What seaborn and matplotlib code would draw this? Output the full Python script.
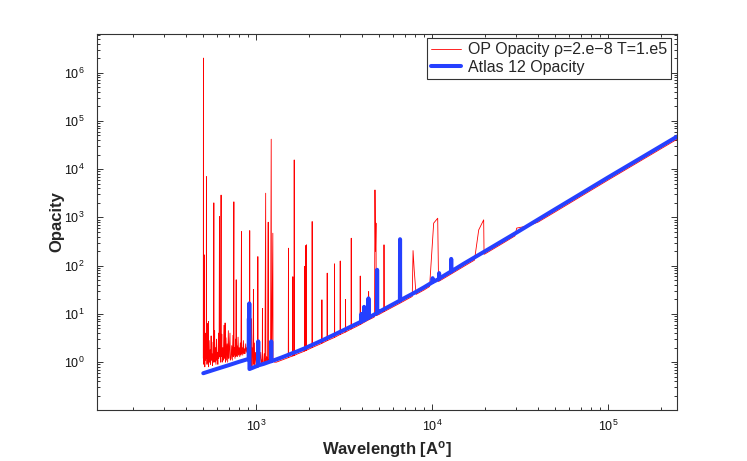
import matplotlib
matplotlib.use("Agg")
import matplotlib.pyplot as plt
import seaborn as sns
import pandas as pd
from matplotlib.ticker import LogLocator, NullFormatter

# OP opacity (rho=2e-8, T=1e5): (wavelength [A], opacity)
op_forest = [
    (500, 1.2), (501, 2.0e6), (502, 1.5), (504, 0.9), (506, 3.0), (507, 167), (508, 2.0),
    (510, 0.8), (513, 4.0), (515, 1.1), (518, 2.5), (520, 1.2), (521, 7000), (522, 1.6),
    (525, 0.9), (528, 2.2), (530, 1.0), (531, 6.4), (532, 1.3), (535, 7.0), (536, 0.8),
    (540, 2.8), (543, 1.0), (547, 1.8), (550, 0.9), (554, 3.5), (556, 1.1), (560, 1.5),
    (564, 0.85), (568, 2.6), (571, 1.0), (574, 2000), (576, 1.2), (580, 4.5), (582, 1.0),
    (586, 2.0), (590, 0.9), (594, 3.0), (597, 1.1), (601, 1.6), (605, 0.9), (610, 4.0),
    (612, 1.2), (615, 2.2), (618, 1040), (620, 1.3), (623, 1.8), (627, 1.0), (631, 2900),
    (633, 1.3), (637, 3.8), (640, 1.0), (645, 2.0), (650, 1.1), (655, 5.8), (658, 1.2),
    (663, 1.7), (665, 6.5), (668, 1.0), (673, 3.2), (678, 1.1), (683, 2.4), (688, 1.0),
    (694, 4.5), (698, 1.2), (703, 1.9), (709, 4.0), (712, 1.1), (719, 1.2), (725, 2.2),
    (731, 1.1), (737, 3.6), (741, 1.3), (746, 2100), (748, 1.4), (752, 2.0), (757, 1.2),
    (763, 3.0), (766, 1.3), (769, 51), (771, 1.4), (776, 2.2), (782, 1.3), (788, 3.3),
    (794, 1.4), (800, 2.0), (806, 1.3), (812, 2.5), (818, 1.4), (824, 508), (826, 1.5),
    (832, 2.0), (838, 1.4), (845, 2.8), (852, 1.5), (858, 1.9), (864, 1.5), (871, 2.4),
    (878, 1.6), (885, 2.0), (892, 1.7), (898, 2.2), (905, 1.8), (911, 2.0),
]
op_uv = [
    (912, 1.9), (913, 0.75), (916, 2.5), (918, 532), (920, 1.0), (925, 3.0), (928, 0.9),
    (935, 8.0), (938, 0.85), (945, 2.0), (950, 0.85), (960, 4.0), (964, 32), (968, 0.9),
    (975, 2.5), (980, 0.85), (990, 1.6), (1000, 0.85), (1010, 1.4), (1018, 0.9),
    (1021, 154), (1024, 0.9), (1035, 1.3), (1045, 0.9), (1060, 1.6), (1070, 0.92),
    (1082, 1.2), (1084, 13), (1086, 1.0), (1100, 0.95), (1110, 1.5), (1120, 0.98),
    (1131, 3170), (1134, 1.0), (1145, 1.3), (1160, 1.0), (1169, 795), (1172, 1.05),
    (1190, 1.2), (1205, 1.05), (1216, 41700), (1220, 1.5), (1224, 1.1), (1242, 470),
    (1245, 1.05), (1270, 1.0), (1300, 1.0), (1400, 1.11), (1500, 1.22), (1520, 1.24),
    (1524, 230), (1528, 1.25), (1560, 1.29), (1610, 1.34), (1614, 59), (1618, 1.35),
    (1640, 1.37), (1643, 15500), (1647, 1.38), (1700, 1.46), (1800, 1.59), (1878, 1.69),
    (1881, 96), (1884, 1.7), (1905, 1.73), (1908, 260), (1911, 1.74), (1925, 1.76),
    (1928, 270), (1931, 1.77), (2000, 1.88),
]
op_optical = [
    (2075, 2.0), (2078, 820), (2081, 2.01), (2200, 2.2), (2355, 2.45), (2361, 19.6),
    (2367, 2.47), (2525, 2.78), (2530, 70), (2535, 2.8), (2780, 3.25), (2785, 109),
    (2790, 3.27), (2995, 3.75), (3000, 125), (3005, 3.76), (3210, 4.2), (3216, 20),
    (3222, 4.22), (3460, 4.85), (3465, 370), (3470, 4.87), (3700, 5.45), (3890, 6.0),
    (3898, 61), (3906, 6.02), (4000, 6.35), (4340, 7.5), (4350, 29), (4360, 7.55),
    (4600, 8.3), (4700, 8.7), (4727, 3700), (4760, 200), (4790, 760), (4810, 9.2),
    (5000, 9.8), (5315, 11.1), (5320, 270), (5330, 11.15), (6000, 14), (6563, 16.7),
    (7000, 19), (7700, 23), (7780, 205), (7900, 80), (8090, 25.4),
]
op_ir = [
    (8500, 28), (9000, 31.4), (9660, 36.9), (10190, 760), (10740, 960), (10860, 47),
    (11500, 53), (12800, 67), (14000, 82), (16000, 109), (17380, 130), (18370, 550),
    (19600, 890), (19700, 172), (20000, 176), (22000, 216), (25000, 286), (29500, 412),
    (30200, 600), (34500, 660), (36000, 690), (40000, 800), (50000, 1300),
    (70000, 2720), (100000, 5950), (150000, 14300), (246000, 41500),
]

# Atlas 12 opacity
atlas_points = [
    (500, 0.59), (600, 0.73), (700, 0.87), (800, 1.02), (905, 1.17), (908, 8.0),
    (910, 3.0), (913, 16.5), (915, 0.72), (1000, 0.82), (1022, 0.85), (1026, 2.7),
    (1030, 0.86), (1100, 0.92), (1200, 1.03), (1212, 1.04), (1216, 2.7), (1220, 1.05),
    (1300, 1.14), (1400, 1.26), (1500, 1.39), (1600, 1.53), (1700, 1.66), (1800, 1.81),
    (1900, 1.96), (2000, 2.14), (2200, 2.5), (2500, 3.1), (3000, 4.26), (3500, 5.6),
    (3940, 6.9), (3955, 10), (3970, 7.0), (4090, 7.4), (4100, 14), (4110, 7.5),
    (4335, 8.3), (4342, 21), (4350, 8.4), (4855, 10.4), (4862, 82), (4870, 10.5),
    (5000, 11.1), (6000, 15.9), (6550, 18.9), (6563, 353), (6575, 19.1), (7000, 21.6),
    (8000, 28), (9000, 35.7), (10000, 45), (10050, 55), (10100, 46), (10920, 53),
    (10940, 70), (10960, 54), (12800, 76), (12818, 138), (12840, 76), (15000, 108),
    (20000, 200), (30000, 480), (50000, 1480), (70000, 3090), (100000, 6760),
    (150000, 16200), (246000, 47200),
]

major_x = [1e3, 1e4, 1e5]
major_y = [1e0, 1e1, 1e2, 1e3, 1e4, 1e5, 1e6]

op = pd.DataFrame(op_forest + op_uv + op_optical + op_ir, columns=["wave", "kappa"])
atlas = pd.DataFrame(atlas_points, columns=["wave", "kappa"])

sns.set_theme(style="ticks")
plt.rcParams["font.family"] = ["Liberation Sans", "DejaVu Sans"]
plt.rcParams["mathtext.fontset"] = "custom"
plt.rcParams["mathtext.rm"] = "Liberation Sans"
plt.rcParams["mathtext.it"] = "Liberation Sans:italic"
plt.rcParams["mathtext.bf"] = "Liberation Sans:bold"

fig, ax = plt.subplots(figsize=(7.47, 4.61), dpi=100)
fig.subplots_adjust(left=0.1299, right=0.9063, bottom=0.1106, top=0.9262)

sns.lineplot(data=op, x="wave", y="kappa", color="#ff0000", linewidth=0.6,
             estimator=None, sort=False, label="OP Opacity ρ=2.e−8 T=1.e5", ax=ax)
sns.lineplot(data=atlas, x="wave", y="kappa", color="#2540ff", linewidth=2.9,
             estimator=None, sort=False, label="Atlas 12 Opacity", ax=ax)

ax.set_xscale("log")
ax.set_yscale("log")
ax.set_xlim(124.5, 2.46e5)
ax.set_ylim(0.102, 6.3e6)
ax.set_xticks(major_x)
ax.set_yticks(major_y)
for axis in (ax.xaxis, ax.yaxis):
    axis.set_minor_locator(LogLocator(base=10, subs=(2, 3, 4, 5, 6, 7, 8, 9), numticks=50))
    axis.set_minor_formatter(NullFormatter())

ax.tick_params(which="both", direction="in", top=True, right=True,
               color="#333333", width=0.7, labelsize=9, labelcolor="#111111")
ax.tick_params(which="major", length=4.5)
ax.tick_params(which="minor", length=2.5)
ax.tick_params(axis="y", pad=9)
ax.tick_params(axis="x", pad=6)
for sp in ax.spines.values():
    sp.set_color("#333333")
    sp.set_linewidth(0.8)

ax.set_xlabel(r"Wavelength [A$^{\mathbf{o}}$]", fontsize=12, fontweight="bold")
ax.set_ylabel("Opacity", fontsize=12, fontweight="bold", labelpad=0)

leg = ax.legend(loc="upper right", bbox_to_anchor=(0.989, 0.989), borderaxespad=0,
                fontsize=11.5, handlelength=1.9, handletextpad=0.4, borderpad=0.25,
                labelspacing=0.15, fancybox=False, framealpha=1)
leg.get_frame().set_edgecolor("#333333")
leg.get_frame().set_linewidth(0.8)

fig.savefig("out.png", dpi=100)
